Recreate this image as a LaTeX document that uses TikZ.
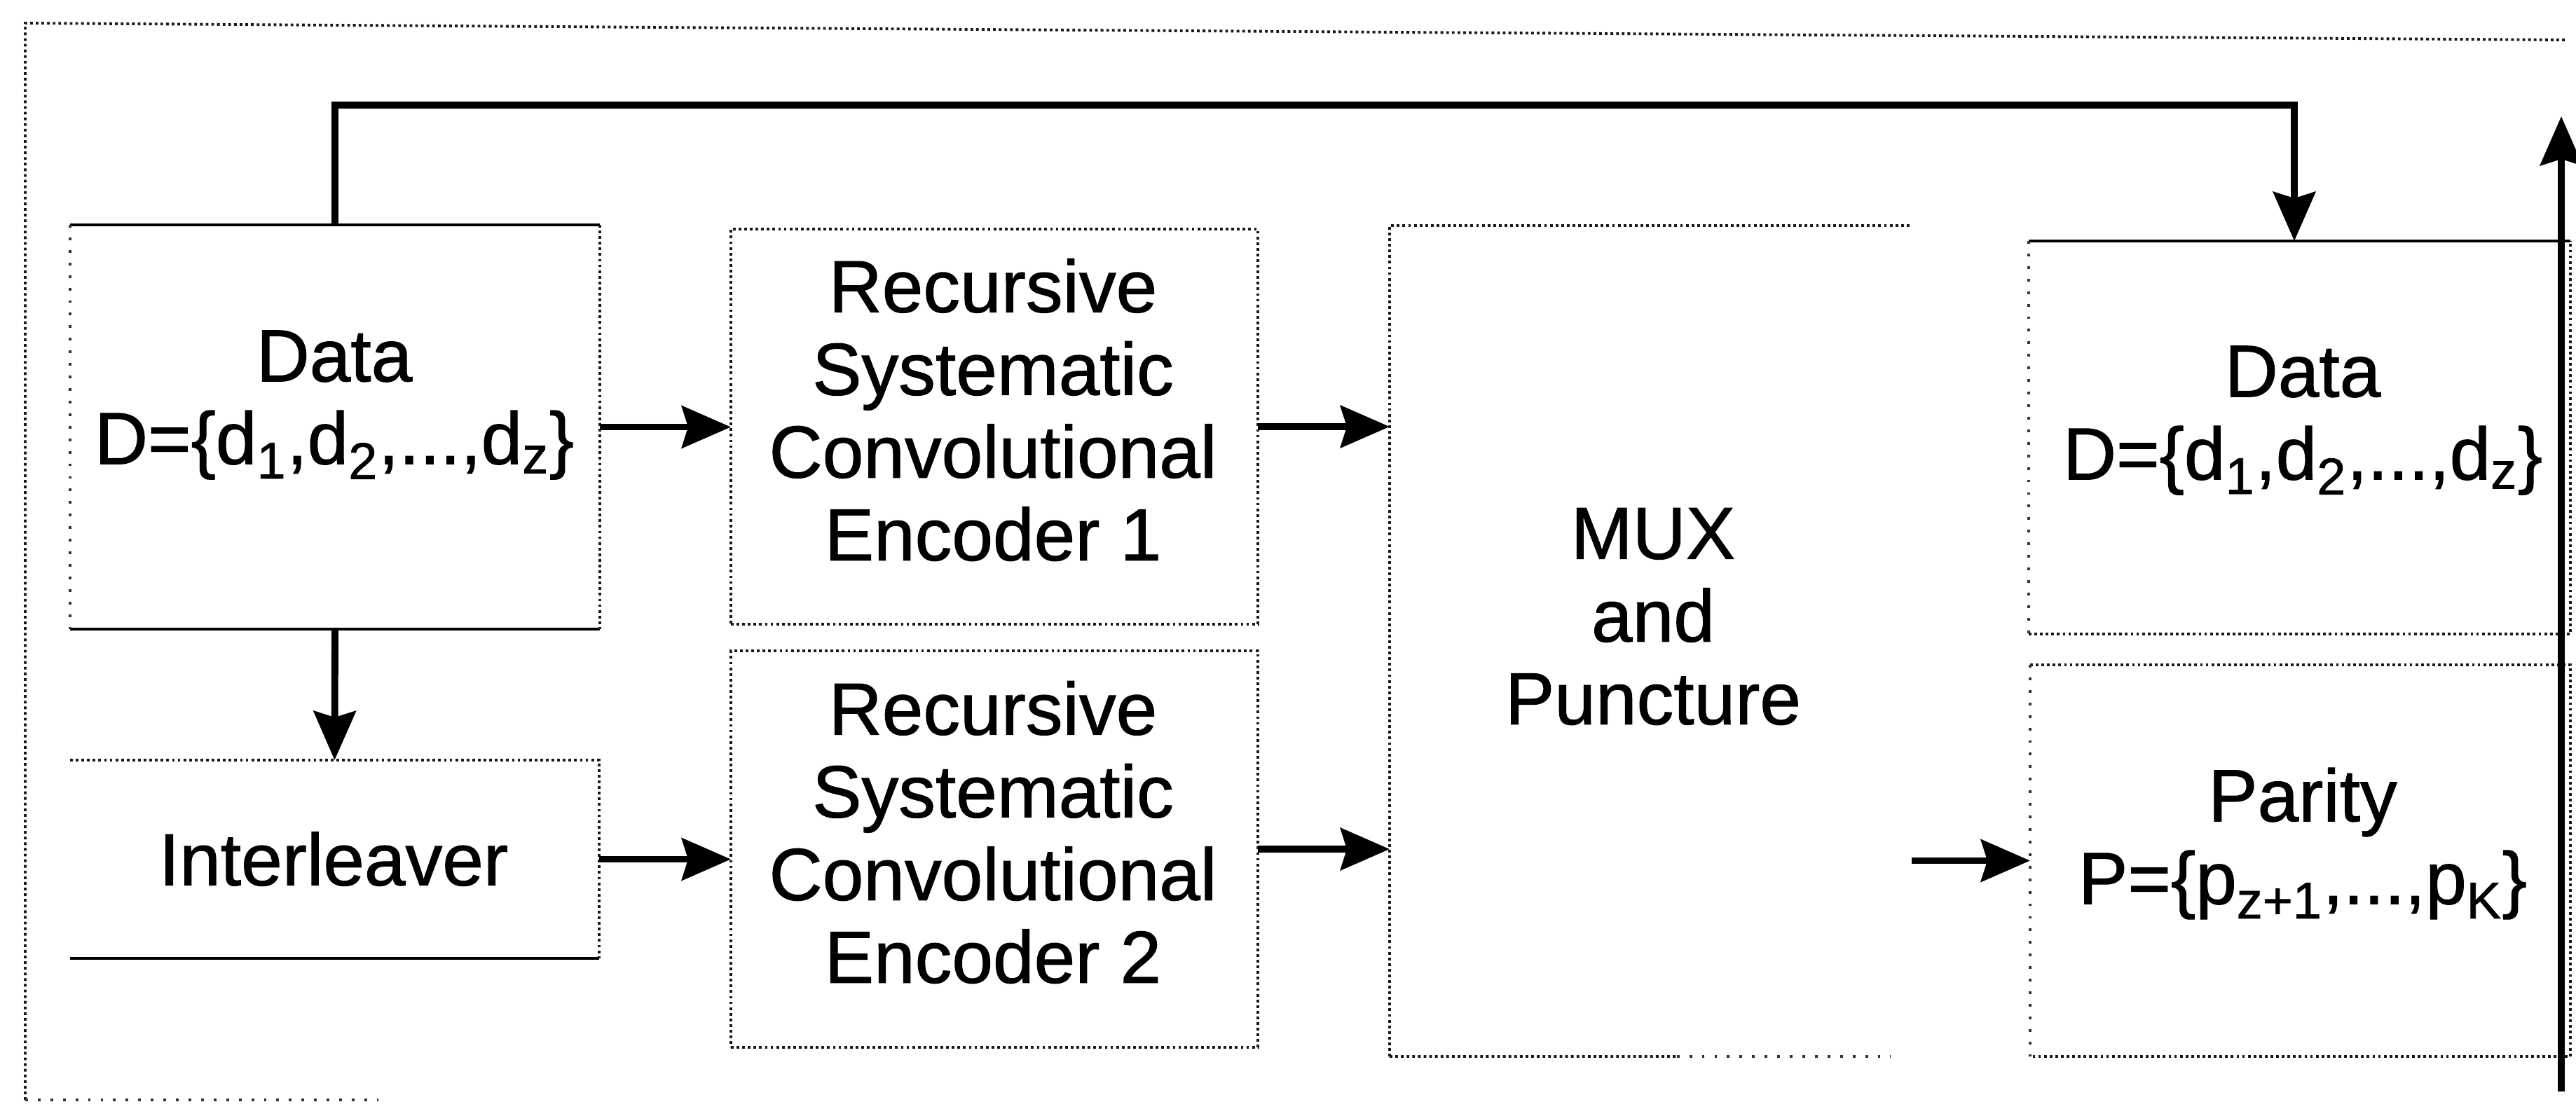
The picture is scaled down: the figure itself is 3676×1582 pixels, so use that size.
\documentclass[tikz,border=0pt]{standalone}
\usepackage{fontspec}
\setmainfont{Liberation Sans}[FakeBold=1.0]
\usetikzlibrary{arrows.meta,calc}

\begin{document}
\begin{tikzpicture}[x=0.1mm,y=-0.1mm,
  blk/.style={inner sep=0pt,outer sep=0pt},
  dotedge/.style={line width=1.1pt,dash pattern=on 1.1pt off 1.2pt,black!90},
  sparseedge/.style={line width=1.1pt,dash pattern=on 1.1pt off 4pt,black!80},
  solidedge/.style={line width=1.2pt,black},
  conn/.style={line width=2.8pt,black,-{Stealth[length=7mm,width=6mm,inset=0.9mm]}},
  lbl/.style={align=center,inner sep=0pt,font=\fontsize{30pt}{33.6pt}\selectfont}]

\useasboundingbox (0,0) rectangle (3676,1582);

% outer frame
\draw[dotedge] (36,1570) -- (36,33) -- (3662,57);
\draw[sparseedge] (36,1570) -- (540,1570);

% blocks
\node[blk,minimum width=75.6mm,minimum height=57.7mm] (dataL) at (478,609.5) {};
\node[blk,minimum width=75.5mm,minimum height=28.3mm] (intl) at (477.5,1226.5) {};
\node[blk,draw,dotedge,minimum width=75.2mm,minimum height=56.4mm] (rsc1) at (1419,609) {};
\node[blk,draw,dotedge,minimum width=75.2mm,minimum height=56.6mm] (rsc2) at (1419,1212) {};
\node[blk,minimum width=74.5mm,minimum height=118.6mm] (mux) at (2355.5,915) {};
\node[blk,minimum width=77.3mm,minimum height=56.1mm] (dataR) at (3281.5,624.5) {};
\node[blk,minimum width=77.1mm,minimum height=55.9mm] (parity) at (3282.5,1228.5) {};

% block outlines
\draw[solidedge] (dataL.north west) -- (dataL.north east);
\draw[solidedge] (dataL.south west) -- (dataL.south east);
\draw[sparseedge] (dataL.north west) -- (dataL.south west);
\draw[dotedge] (dataL.north east) -- (dataL.south east);

\draw[dotedge] (intl.north west) -- (intl.north east) -- (intl.south east);
\draw[solidedge] (intl.south west) -- (intl.south east);

\draw[dotedge] (mux.south west) -- (mux.north west) -- (mux.north east);
\draw[dotedge] (mux.south west) -- ($(mux.south west)!0.55!(mux.south east)$);
\draw[sparseedge] ($(mux.south west)!0.55!(mux.south east)$) -- ($(mux.south west)!0.96!(mux.south east)$);

\draw[solidedge] (dataR.north west) -- (dataR.north east);
\draw[sparseedge] (dataR.north west) -- (dataR.south west);
\draw[dotedge] (dataR.south west) -- (dataR.south east) -- (dataR.north east);

\draw[dotedge] (parity.north west) -- (parity.north east) -- (parity.south east) -- (parity.south west);
\draw[sparseedge] (parity.north west) -- (parity.south west);

% block texts
\node[lbl] (tDataL) at (477,578) {Data\\D=\{d\textsubscript{1},d\textsubscript{2},...,d\textsubscript{z}\}};
\node[lbl] (tIntl) at (476,1226) {Interleaver};
\node[lbl] (tRsc1) at (1417,585) {Recursive\\Systematic\\Convolutional\\Encoder 1};
\node[lbl] (tRsc2) at (1417,1188) {Recursive\\Systematic\\Convolutional\\Encoder 2};
\node[lbl] (tMux) at (2359,880) {MUX\\and\\Puncture};
\node[lbl] (tDataR) at (3286,600) {Data\\D=\{d\textsubscript{1},d\textsubscript{2},...,d\textsubscript{z}\}};
\node[lbl] (tParity) at (3286,1204) {Parity\\P=\{p\textsubscript{z+1},...,p\textsubscript{K}\}};

% connectors
\draw[conn] (dataL.east) -- (dataL.east -| rsc1.west);
\draw[conn] (rsc1.east) -- (rsc1.east -| mux.west);
\draw[conn] (intl.east) -- (intl.east -| rsc2.west);
\draw[conn] (rsc2.east) -- (rsc2.east -| mux.west);
\draw[conn] (parity.west -| mux.east) -- (parity.west);
\draw[conn] (dataL.south) -- (intl.north);

\coordinate (fb) at (3274,150);
\draw[conn] (dataL.north) |- (fb) -- (fb |- dataR.north);

\coordinate (outS) at (3655,1558);
\coordinate (outN) at (3655,166);
\draw[conn] (outS) -- (outN);
\end{tikzpicture}
\end{document}
